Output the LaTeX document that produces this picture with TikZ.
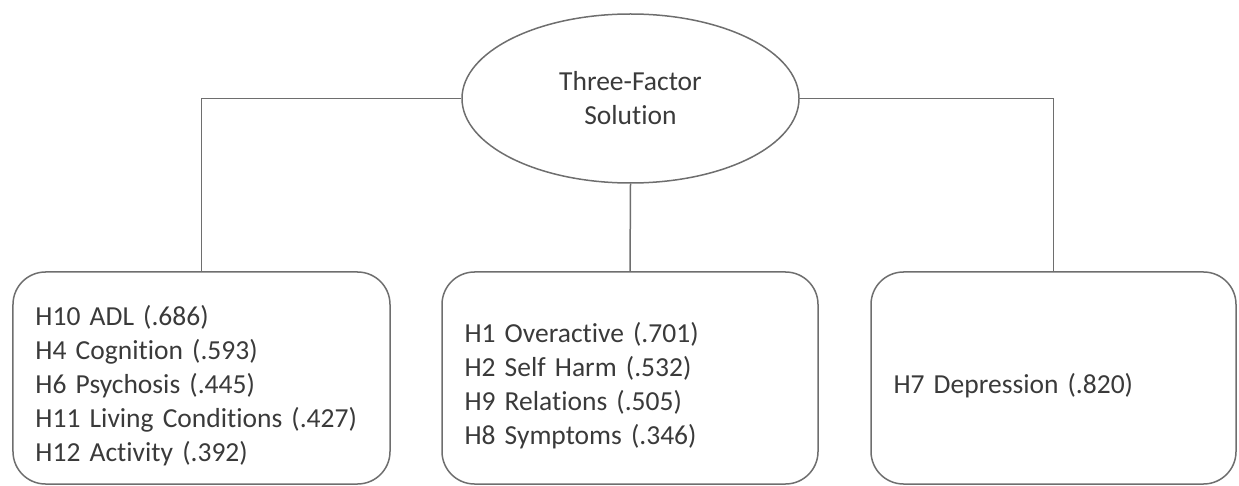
\documentclass[tikz,border=0pt]{standalone}
\usepackage{fontspec}
\setmainfont{Carlito}[Ligatures=NoCommon]
\usetikzlibrary{shapes.geometric}

\begin{document}
\begin{tikzpicture}[x=0.4pt, y=-0.4pt,
    font=\fontsize{11pt}{13.6pt}\selectfont,
    factor/.style={ellipse, draw=LineGrey, line width=0.6pt, inner sep=0pt,
        minimum width=134.8pt, minimum height=67.6pt, align=center, text=TextGrey},
    itembox/.style={rectangle, draw=LineGrey, line width=0.6pt, rounded corners=13pt,
        minimum height=84.8pt, inner xsep=9pt, text width=#1, align=left, text=TextGrey,
        execute at begin node={\rule{0pt}{13.9pt}}},
    link/.style={draw=LineGrey, line width=0.6pt}]
    \definecolor{LineGrey}{HTML}{6E6E6E}
    \definecolor{TextGrey}{HTML}{3A3A3A}
    \useasboundingbox (0,0) rectangle (1239,486);
    \coordinate (F) at (630.5, 98.5);
    \coordinate (L) at (201.5, 378);
    \coordinate (M) at (630, 378);
    \coordinate (R) at (1053.5, 378);
    \node[factor] (solution) at (F) {Three-Factor\\Solution};
    \node[itembox=132.8pt] (first) at (L) {H10 ADL (.686)\\H4 Cognition (.593)\\H6 Psychosis (.445)\\H11 Living Conditions (.427)\\H12 Activity (.392)};
    \node[itembox=132.4pt] (second) at (M) {H1 Overactive (.701)\\H2 Self Harm (.532)\\H9 Relations (.505)\\H8 Symptoms (.346)};
    \node[itembox=128pt] (third) at (R) {H7 Depression (.820)};
    \draw[link] (solution.west) -| (first.north);
    \draw[link] (solution.south) -- (second.north);
    \draw[link] (solution.east) -| (third.north);
\end{tikzpicture}
\end{document}
